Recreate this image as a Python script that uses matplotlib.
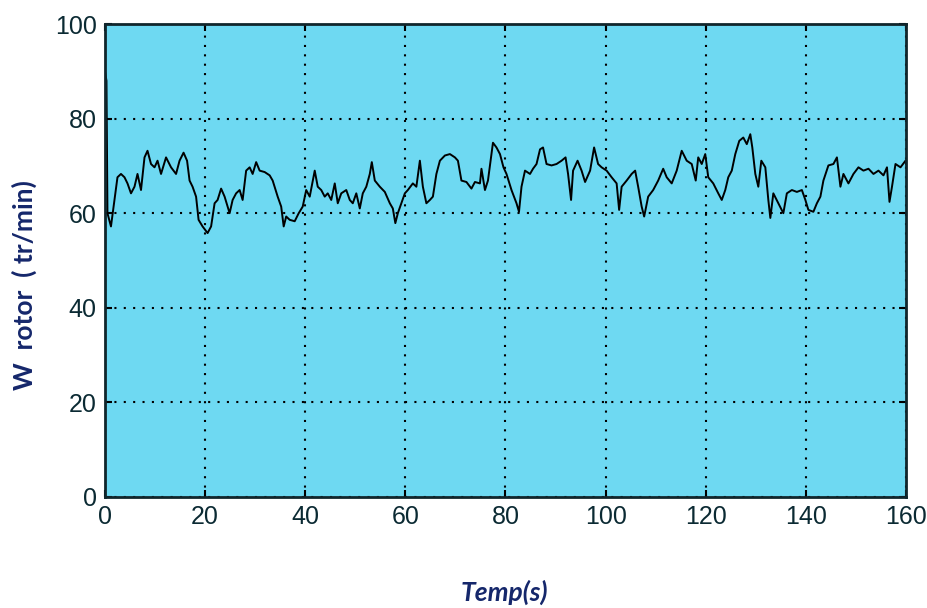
import matplotlib
matplotlib.use('Agg')
import matplotlib.pyplot as plt

# rotor speed (time in s, speed in tr/min)
t = [0, 0.3, 0.5, 1.2, 1.9, 2.5, 3.2, 3.9, 4.5, 5.2, 5.9, 6.5, 7.2, 7.9, 8.5, 9.2, 9.9,
     10.5, 11.2, 12.2, 13.2, 14.2, 14.9, 15.7, 16.4, 16.9, 17.5, 18.2, 18.7, 19.5,
     20.5, 21.2, 21.9, 22.5, 23.2, 23.9, 24.9, 25.5, 26.2, 26.9, 27.5, 28.2, 28.9,
     29.5, 30.2, 30.9, 31.9, 32.9, 33.5, 34.5, 35.2, 35.7, 36.2, 36.9, 37.9, 38.7,
     39.5, 40.2, 40.9, 41.9, 42.5, 43.2, 43.9, 44.5, 45.2, 45.9, 46.5, 47.2, 48.2,
     48.9, 49.5, 50.2, 50.9, 51.5, 52.2, 52.9, 53.3, 53.9, 54.9, 55.9, 56.9, 57.5,
     58.0, 58.5, 59.2, 59.9, 60.5, 61.5, 62.2, 62.9, 63.5, 64.2, 64.9, 65.5, 66.2,
     66.9, 67.9, 68.9, 69.9, 70.5, 71.2, 72.2, 73.2, 73.9, 74.9, 75.2, 75.9, 76.5,
     77.1, 77.5, 78.2, 78.9, 79.6, 80.2, 81.2, 82.2, 82.7, 83.2, 83.9, 84.9, 85.5,
     86.2, 86.9, 87.5, 88.2, 89.2, 90.2, 91.2, 92.0, 92.5, 93.1, 93.5, 94.4, 95.2,
     95.9, 96.9, 97.7, 98.5, 99.2, 100.2, 101.2, 102.2, 102.7, 103.2, 104.2, 105.2,
     105.9, 106.5, 107.2, 107.7, 108.5, 109.5, 110.5, 111.5, 112.2, 113.2, 114.2,
     115.2, 116.2, 117.2, 118.0, 118.5, 119.2, 119.9, 120.5, 121.5, 122.5, 123.2,
     123.9, 124.5, 125.2, 125.9, 126.7, 127.5, 128.2, 128.9, 129.3, 129.9, 130.5,
     131.1, 131.9, 132.5, 132.9, 133.5, 134.5, 135.5, 136.2, 137.2, 138.2, 139.2,
     139.9, 140.5, 141.5, 142.2, 142.9, 143.5, 144.5, 145.5, 146.2, 146.9, 147.5,
     148.5, 149.5, 150.5, 151.5, 152.5, 153.5, 154.5, 155.5, 156.2, 156.7, 157.2,
     157.9, 158.9, 159.9, 160]
w = [90, 88, 60, 57.2, 62.8, 67.6, 68.3, 67.6, 66.3, 64.2, 65.6, 68.3, 64.9, 71.8, 73.2,
     70.4, 69.7, 71.1, 68.3, 71.8, 69.7, 68.3, 71.1, 72.8, 71.1, 66.9, 65.6, 63.5, 58.6,
     57.2, 55.8, 57.2, 62.1, 62.8, 65.2, 63.5, 60.0, 62.8, 64.2, 64.9, 62.8, 69.0, 69.7,
     68.3, 70.8, 69.0, 68.7, 68.0, 66.9, 63.5, 61.4, 57.2, 59.3, 58.6, 58.3, 60.0, 61.4,
     64.9, 63.5, 69.0, 65.6, 64.9, 63.5, 64.2, 62.8, 66.3, 62.1, 64.2, 64.9, 62.8, 62.1,
     64.2, 61.0, 64.2, 65.6, 68.3, 70.8, 66.9, 65.6, 64.5, 62.1, 61.0, 57.9, 60.0, 62.1,
     64.2, 64.9, 66.3, 65.6, 71.1, 65.6, 62.1, 62.8, 63.5, 68.3, 71.1, 72.2, 72.5, 71.8,
     71.1, 66.9, 66.6, 65.2, 66.6, 66.3, 69.4, 64.9, 66.9, 71.8, 74.9, 73.9, 72.5, 69.7,
     68.3, 64.9, 62.1, 60.3, 65.6, 69.0, 68.3, 69.4, 70.4, 73.5, 73.9, 70.4, 70.1, 70.4,
     71.1, 71.8, 68.3, 62.8, 69.0, 71.1, 69.0, 66.6, 69.0, 73.9, 70.4, 69.7, 69.0, 67.6,
     66.3, 60.7, 65.6, 66.9, 68.3, 69.0, 65.6, 61.4, 59.3, 63.5, 64.9, 66.9, 69.4, 67.6,
     66.3, 69.0, 73.2, 71.1, 70.4, 66.9, 71.8, 70.4, 72.5, 67.6, 66.3, 64.2, 62.8, 64.9,
     67.6, 69.0, 72.5, 75.3, 76.0, 74.6, 76.7, 73.9, 68.3, 65.6, 71.1, 69.7, 62.8, 59.0,
     64.2, 62.1, 60.0, 64.2, 64.9, 64.5, 64.9, 62.8, 60.7, 60.3, 62.1, 63.5, 66.9, 70.1,
     70.4, 71.8, 65.6, 68.3, 66.3, 68.3, 69.7, 69.0, 69.4, 68.3, 69.0, 68.0, 69.7, 62.4,
     65.6, 70.4, 69.7, 71.1, 70.4]

x_ticks = [0, 20, 40, 60, 80, 100, 120, 140, 160]
y_ticks = [0, 20, 40, 60, 80, 100]

navy = '#15276b'

fig = plt.figure(figsize=(9.28, 6.08), dpi=100)
ax = fig.add_axes([0.1131, 0.1826, 0.8632, 0.7779])
ax.set_facecolor('#6ed9f2')

ax.plot(t, w, color='black', linewidth=1.4)

ax.set_xlim(0, 160)
ax.set_ylim(0, 100)
ax.set_xticks(x_ticks)
ax.set_yticks(y_ticks)
ax.grid(True, color='black', linestyle=(0, (1, 3.5)), linewidth=1.5)
ax.tick_params(direction='in', length=5, width=1.5, top=True, right=True,
               labelsize=18, labelcolor='#0b2a33', pad=6)
for lab in ax.get_xticklabels() + ax.get_yticklabels():
    lab.set_family(['Liberation Sans', 'DejaVu Sans'])
for sp in ax.spines.values():
    sp.set_linewidth(2)
    sp.set_color('#10262c')

fig.text(0.026, 0.531, 'W  rotor  ( tr/min)', rotation=90, ha='center', va='center',
         fontsize=19, fontweight='bold', color=navy, family=['Lato', 'DejaVu Sans'])
fig.text(0.543, 0.026, 'Temp(s)', ha='center', va='center', fontsize=19,
         fontweight='bold', fontstyle='italic', color=navy, family=['Lato', 'DejaVu Sans'])

fig.savefig('out.png', dpi=100)
